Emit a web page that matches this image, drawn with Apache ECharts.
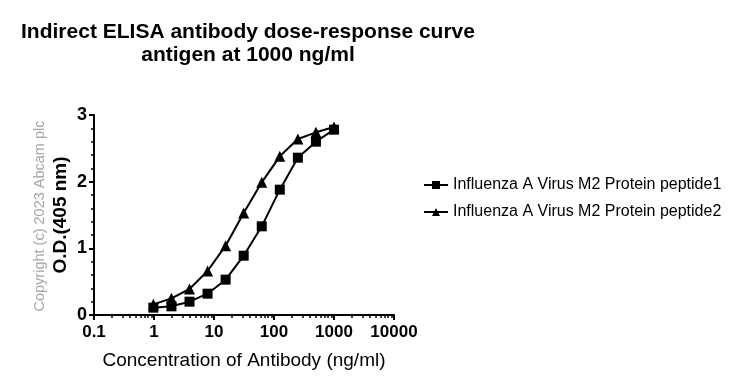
<!DOCTYPE html>
<html>
<head>
<meta charset="utf-8">
<script src="https://cdn.jsdelivr.net/npm/echarts@6/dist/echarts.min.js"></script>
<style>html,body{margin:0;padding:0;background:#fff}#c{width:742px;height:386px}</style>
</head>
<body>
<div id="c"></div>
<script>
const concentrations = [1000, 500, 250, 125, 62.5, 31.25, 15.625, 7.8125, 3.90625, 1.953125, 0.9765625];
const peptide1 = [2.78, 2.60, 2.36, 1.88, 1.33, 0.89, 0.53, 0.32, 0.20, 0.13, 0.11];
const peptide2 = [2.82, 2.74, 2.64, 2.38, 1.99, 1.53, 1.04, 0.66, 0.39, 0.25, 0.16];
const seriesNames = ['Influenza A Virus M2 Protein peptide1', 'Influenza A Virus M2 Protein peptide2'];
const xMinorTicks = [0.2,0.3,0.4,0.5,0.6,0.7,0.8,0.9,2,3,4,5,6,7,8,9,20,30,40,50,60,70,80,90,200,300,400,500,600,700,800,900,2000,3000,4000,5000,6000,7000,8000,9000];

const FONT = '"Liberation Sans", Arial, sans-serif';
const chart = echarts.init(document.getElementById('c'), null, {renderer: 'canvas'});
const pairs = arr => concentrations.map((c, i) => [c, arr[i]]);

chart.setOption({
  animation: false,
  backgroundColor: '#fff',
  title: {
    text: 'Indirect ELISA antibody dose-response curve\nantigen at 1000 ng/ml',
    left: 243, top: 16, textAlign: 'center',
    textStyle: {fontFamily: FONT, fontSize: 21, fontWeight: 'bold', color: '#000', lineHeight: 23}
  },
  graphic: [{
    type: 'text', x: 40, y: 216,
    rotation: Math.PI / 2,
    style: {text: 'Copyright (c) 2023 Abcam plc', fontFamily: FONT, fontSize: 14.5, fill: '#a6a6a6',
      align: 'center', verticalAlign: 'middle'}
  }],
  legend: {
    orient: 'vertical', left: 418, top: 172,
    itemWidth: 24, itemHeight: 10, itemGap: 11,
    textStyle: {fontFamily: FONT, fontSize: 16, color: '#000'},
    data: seriesNames
  },
  grid: {left: 94, right: 348, top: 115, bottom: 71, containLabel: false},
  xAxis: [{
    type: 'log', logBase: 10, min: 0.1, max: 10000,
    name: 'Concentration of Antibody (ng/ml)', nameLocation: 'middle', nameGap: 36,
    nameTextStyle: {fontFamily: FONT, fontSize: 19, color: '#000'},
    axisLine: {show: true, lineStyle: {color: '#000', width: 2}},
    axisTick: {show: true, length: 5, lineStyle: {color: '#000', width: 2}},
    axisLabel: {fontFamily: FONT, fontSize: 17, fontWeight: 'bold', color: '#000', margin: 9,
      formatter: v => String(+(+v).toPrecision(6))},
    splitLine: {show: false}
  }, {
    type: 'log', logBase: 10, min: 0.1, max: 10000, position: 'bottom',
    axisLine: {show: false},
    axisTick: {show: true, length: 3, customValues: xMinorTicks, lineStyle: {color: '#000', width: 1.5}},
    axisLabel: {show: false},
    splitLine: {show: false}
  }],
  yAxis: {
    type: 'value', min: 0, max: 3, interval: 1,
    name: 'O.D.(405 nm)', nameLocation: 'middle', nameGap: 24,
    nameTextStyle: {fontFamily: FONT, fontSize: 19, fontWeight: 'bold', color: '#000'},
    axisLine: {show: true, lineStyle: {color: '#000', width: 2}},
    axisTick: {show: true, length: 5, lineStyle: {color: '#000', width: 2}},
    minorTick: {show: true, splitNumber: 5, length: 3, lineStyle: {color: '#000', width: 1.5}},
    axisLabel: {fontFamily: FONT, fontSize: 18, fontWeight: 'bold', color: '#000', margin: 7},
    splitLine: {show: false}
  },
  series: [{
    name: seriesNames[0], type: 'line', xAxisIndex: 0,
    data: pairs(peptide1),
    symbol: 'rect', symbolSize: 10,
    lineStyle: {color: '#000', width: 2},
    itemStyle: {color: '#000'}
  }, {
    name: seriesNames[1], type: 'line', xAxisIndex: 0,
    data: pairs(peptide2),
    symbol: 'triangle', symbolSize: 11,
    lineStyle: {color: '#000', width: 2},
    itemStyle: {color: '#000'}
  }]
});
</script>
</body>
</html>
